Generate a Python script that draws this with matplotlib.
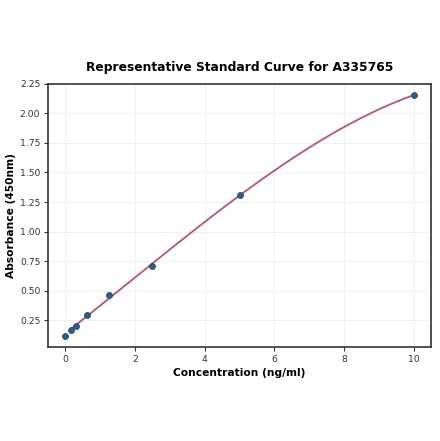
import numpy as np
import matplotlib
matplotlib.use('Agg')
import matplotlib.pyplot as plt

# standard points
conc = [0.0, 0.156, 0.3125, 0.625, 1.25, 2.5, 5.0, 10.0]
absorb = [0.121, 0.166, 0.205, 0.298, 0.461, 0.706, 1.312, 2.154]

TITLE = 'Representative Standard Curve for A335765'
XLABEL = 'Concentration (ng/ml)'
YLABEL = 'Absorbance (450nm)'

fig = plt.figure(figsize=(4.4, 4.41), dpi=100)
ax = fig.add_axes([0.109, 0.213, 0.871, 0.597])

# fitted curve over the non-zero standards
coef = np.polyfit(conc[1:], absorb[1:], 3)
xs = np.linspace(conc[1], conc[-1], 200)
ax.plot(xs, np.polyval(coef, xs), color='#b5566f', lw=1.3, zorder=2)

ax.scatter(conc, absorb, s=18, color='#2b5f8c', edgecolors='#1f4a70',
           linewidths=0.6, zorder=3)

ax.set_xlim(-0.5, 10.5)
ax.set_ylim(0.024, 2.25)
ax.set_yticks([0.25, 0.5, 0.75, 1.0, 1.25, 1.5, 1.75, 2.0, 2.25])
ax.set_xticks([0, 2, 4, 6, 8, 10])
ax.grid(True, color='#e6e6e6', lw=0.6, alpha=0.7)
ax.set_axisbelow(True)

for sp in ax.spines.values():
    sp.set_color('#333333')
    sp.set_linewidth(1.2)
ax.tick_params(labelsize=6.7, colors='#333333', length=3, pad=2.5)

ax.set_title(TITLE, fontsize=8.8, fontweight='bold', pad=9)
ax.set_xlabel(XLABEL, fontsize=7.7, fontweight='bold', labelpad=3)
ax.set_ylabel(YLABEL, fontsize=7.7, fontweight='bold', labelpad=3)

fig.savefig('out.png', dpi=100)
